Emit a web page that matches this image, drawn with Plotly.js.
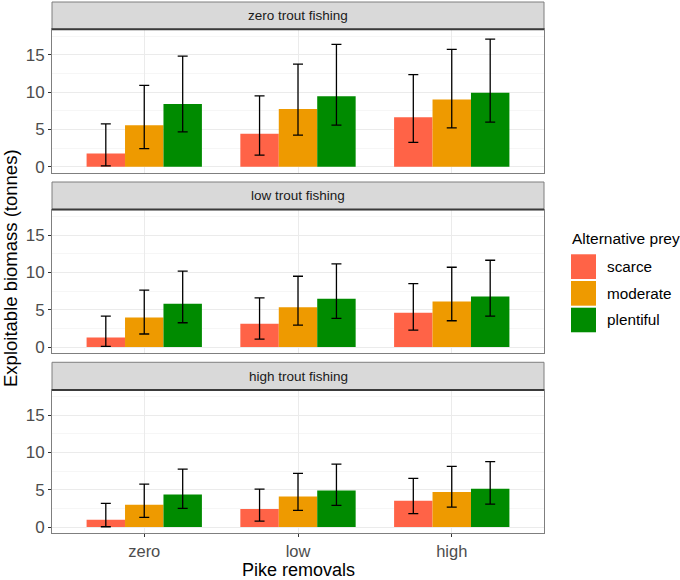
<!DOCTYPE html>
<html>
<head>
<meta charset="utf-8">
<script src="https://cdn.plot.ly/plotly-3.0.1.min.js"></script>
<style>html,body{margin:0;padding:0;background:#fff;}#chart{width:680px;height:580px;}</style>
</head>
<body>
<div id="chart"></div>
<script>
// ---- data ----
const pikeRemovals = ['zero', 'low', 'high'];
const preyLevels = ['scarce', 'moderate', 'plentiful'];
const facetLabels = ['zero trout fishing', 'low trout fishing', 'high trout fishing'];

// rows: scarce, moderate, plentiful ; columns: pike removals zero, low, high
const zeroTroutMean  = [[1.78, 4.41, 6.63], [5.55, 7.74, 8.99], [8.41, 9.43, 9.92]];
const zeroTroutLower = [[0.12, 1.56, 3.25], [2.42, 4.23, 5.21], [4.66, 5.56, 5.96]];
const zeroTroutUpper = [[5.75, 9.48, 12.33], [10.9, 13.75, 15.71], [14.82, 16.38, 17.09]];

const lowTroutMean  = [[1.29, 3.12, 4.58], [3.96, 5.34, 6.10], [5.79, 6.45, 6.76]];
const lowTroutLower = [[0.09, 1.07, 2.27], [1.74, 2.94, 3.52], [3.25, 3.83, 4.14]];
const lowTroutUpper = [[4.14, 6.59, 8.50], [7.61, 9.48, 10.68], [10.15, 11.13, 11.62]];

const highTroutMean  = [[0.98, 2.41, 3.53], [2.99, 4.11, 4.69], [4.38, 4.91, 5.13]];
const highTroutLower = [[0.04, 0.80, 1.79], [1.29, 2.23, 2.68], [2.50, 2.90, 3.08]];
const highTroutUpper = [[3.17, 5.09, 6.52], [5.76, 7.19, 8.13], [7.77, 8.44, 8.79]];

// ---- styles ----
const preyColors = ['#FF6347', '#EE9A00', '#008B00'];
const FONT = 'Liberation Sans, Arial, Helvetica, sans-serif';

const facetMeans = [zeroTroutMean, lowTroutMean, highTroutMean];
const facetLowers = [zeroTroutLower, lowTroutLower, highTroutLower];
const facetUppers = [zeroTroutUpper, lowTroutUpper, highTroutUpper];

const traces = [];
facetMeans.forEach((means, f) => {
  const sfx = f === 0 ? '' : String(f + 1);
  preyLevels.forEach((prey, p) => {
    const m = means[p];
    const lo = facetLowers[f][p];
    const hi = facetUppers[f][p];
    traces.push({
      type: 'bar',
      name: prey,
      legendgroup: prey,
      showlegend: false,
      x: pikeRemovals,
      y: m,
      xaxis: 'x' + sfx,
      yaxis: 'y' + sfx,
      marker: {color: preyColors[p], line: {width: 0}},
      error_y: {
        type: 'data', symmetric: false,
        array: m.map((v, i) => hi[i] - v),
        arrayminus: m.map((v, i) => v - lo[i]),
        color: '#000000', thickness: 1.3, width: 5
      },
      hovertemplate: prey + ': %{y}<extra></extra>'
    });
  });
});

// geometry (paper fractions)
const plotDomains = [[0.6785, 0.9486], [0.3390, 0.6090], [0.0, 0.2695]];
const stripDomains = [[0.9486, 1.0], [0.6090, 0.6610], [0.2695, 0.3215]];

const gridColor = '#EBEBEB';
const borderColor = '#7F7F7F';

function xAxis(f) {
  const a = {
    type: 'category', categoryorder: 'array', categoryarray: pikeRemovals,
    range: [-0.6, 2.6], domain: [0, 1], anchor: f === 0 ? 'y' : 'y' + (f + 1),
    showgrid: true, gridcolor: gridColor, gridwidth: 1, zeroline: false,
    showline: true, mirror: true, linecolor: borderColor, linewidth: 1,
    fixedrange: true
  };
  if (f < 2) {
    a.showticklabels = false; a.ticks = '';
  } else {
    a.ticks = 'outside'; a.ticklen = 3; a.tickcolor = '#333333'; a.tickwidth = 1;
    a.tickfont = {family: FONT, size: 16.5, color: '#4D4D4D'};
  }
  return a;
}
function yAxis(f) {
  return {
    range: [-0.8, 18.4], domain: plotDomains[f], anchor: f === 0 ? 'x' : 'x' + (f + 1),
    tickmode: 'linear', tick0: 0, dtick: 5,
    ticks: 'outside', ticklen: 3, tickcolor: '#333333', tickwidth: 1,
    tickfont: {family: FONT, size: 17, color: '#4D4D4D'},
    showgrid: true, gridcolor: gridColor, gridwidth: 1, zeroline: false,
    minor: {tick0: 0, dtick: 2.5, showgrid: true, gridcolor: '#F2F2F2', gridwidth: 0.7, ticks: ''},
    showline: true, mirror: true, linecolor: borderColor, linewidth: 1,
    fixedrange: true
  };
}

const shapes = [];
const annotations = [];
stripDomains.forEach((d, f) => {
  shapes.push({type: 'rect', xref: 'paper', yref: 'paper', x0: 0, x1: 1, y0: d[0], y1: d[1],
    fillcolor: '#D9D9D9', line: {color: borderColor, width: 1}, layer: 'above'});
  shapes.push({type: 'line', xref: 'paper', yref: 'paper', x0: 0, x1: 1, y0: d[0], y1: d[0],
    line: {color: '#3A3A3A', width: 2}, layer: 'above'});
  annotations.push({xref: 'paper', yref: 'paper', x: 0.5, y: (d[0] + d[1]) / 2,
    text: facetLabels[f], showarrow: false, xanchor: 'center', yanchor: 'middle',
    font: {family: FONT, size: 13.5, color: '#1A1A1A'}});
});

// axis titles
annotations.push({xref: 'paper', yref: 'paper', x: 0.5, y: -0.0697,
  text: 'Pike removals', showarrow: false, xanchor: 'center', yanchor: 'middle',
  borderpad: 0, borderwidth: 0,
  font: {family: FONT, size: 18, color: '#000000'}});
annotations.push({xref: 'paper', yref: 'paper', x: -0.0855, y: 0.499, textangle: -90,
  text: 'Exploitable biomass (tonnes)', showarrow: false, xanchor: 'center', yanchor: 'middle',
  borderpad: 0,
  font: {family: FONT, size: 18.5, color: '#000000'}});

// legend (manual, ggplot-style keys)
annotations.push({xref: 'paper', yref: 'paper', x: 1.0528, y: 0.5537, text: 'Alternative prey',
  showarrow: false, xanchor: 'left', yanchor: 'middle', font: {family: FONT, size: 15.5, color: '#000000'}});
const keyY = [[0.4783, 0.5249], [0.4281, 0.4746], [0.3780, 0.4243]];
preyLevels.forEach((prey, p) => {
  shapes.push({type: 'rect', xref: 'paper', yref: 'paper', x0: 1.0549, x1: 1.1057,
    y0: keyY[p][0], y1: keyY[p][1], fillcolor: preyColors[p], line: {width: 0}});
  annotations.push({xref: 'paper', yref: 'paper', x: 1.124, y: (keyY[p][0] + keyY[p][1]) / 2,
    text: prey, showarrow: false, xanchor: 'left', yanchor: 'middle',
    font: {family: FONT, size: 15.3, color: '#000000'}});
});

const layout = {
  width: 680, height: 580,
  margin: {l: 52, r: 136, t: 2, b: 47, pad: 0},
  paper_bgcolor: '#FFFFFF', plot_bgcolor: '#FFFFFF',
  font: {family: FONT},
  barmode: 'group', bargap: 0.25, bargroupgap: 0,
  showlegend: false,
  xaxis: xAxis(0), xaxis2: xAxis(1), xaxis3: xAxis(2),
  yaxis: yAxis(0), yaxis2: yAxis(1), yaxis3: yAxis(2),
  shapes: shapes, annotations: annotations
};

Plotly.newPlot('chart', traces, layout, {displayModeBar: false, staticPlot: true});
</script>
</body>
</html>
